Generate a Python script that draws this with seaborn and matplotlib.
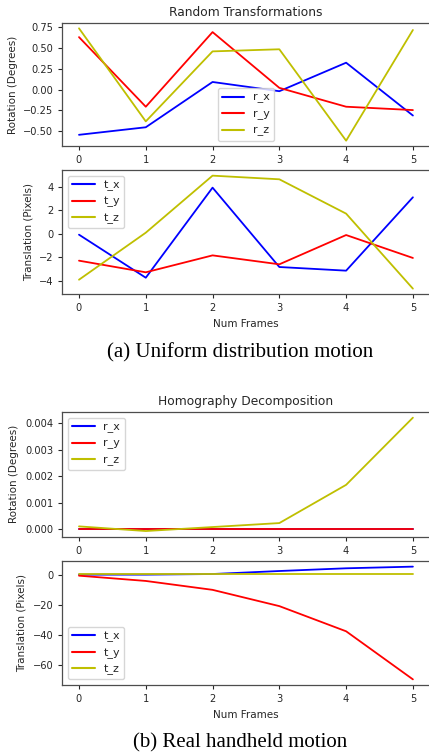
import numpy as np
import pandas as pd
import matplotlib
matplotlib.use("Agg")
import matplotlib.pyplot as plt
from matplotlib.ticker import MultipleLocator
import seaborn as sns

frames = [0, 1, 2, 3, 4, 5]

# (a) Uniform distribution motion
rand_r_x = [-0.54, -0.45, 0.09, -0.02, 0.32, -0.31]
rand_r_y = [0.625, -0.205, 0.685, 0.02, -0.205, -0.245]
rand_r_z = [0.73, -0.38, 0.455, 0.48, -0.61, 0.71]
rand_t_x = [-0.06, -3.72, 3.94, -2.81, -3.12, 3.12]
rand_t_y = [-2.27, -3.26, -1.82, -2.58, -0.09, -2.04]
rand_t_z = [-3.89, 0.11, 4.96, 4.65, 1.73, -4.65]

# (b) Real handheld motion
homo_r_x = [0.0, 0.0, 0.0, 0.0, 0.0, 0.0]
homo_r_y = [0.0, 0.0, 0.0, 0.0, 0.0, 0.0]
homo_r_z = [0.000115, -0.00006, 0.00009, 0.00024, 0.00168, 0.00421]
homo_t_x = [0.0, 0.0, 0.4, 2.4, 4.2, 5.3]
homo_t_y = [-0.7, -4.2, -10.1, -20.9, -37.6, -69.5]
homo_t_z = [0.3, 0.3, 0.3, 0.3, 0.3, 0.3]

titles = ["Random Transformations", "Homography Decomposition"]
captions = ["(a) Uniform distribution motion", "(b) Real handheld motion"]
rot_names = ["r_x", "r_y", "r_z"]
trans_names = ["t_x", "t_y", "t_z"]
colors = ["#0000ff", "#ff0000", "#bfbf00"]

sns.set_style("ticks")
plt.rcParams["font.family"] = ["DejaVu Sans"]

W, H = 429, 754
fig = plt.figure(figsize=(W / 100, H / 100), dpi=100)


def ax_at(top_px, bottom_px, left_px=62.3, right_px=429.6):
    return fig.add_axes([left_px / W, 1 - bottom_px / H,
                         (right_px - left_px) / W, (bottom_px - top_px) / H])


def long_df(names, series):
    rows = []
    for n, s in zip(names, series):
        for f, v in zip(frames, s):
            rows.append({"frame": f, "value": v, "series": n})
    return pd.DataFrame(rows)


panels = [
    (22.7, 146.3, rot_names, [rand_r_x, rand_r_y, rand_r_z], "Rotation (Degrees)", "lower center", titles[0], False, 0.25),
    (170.0, 294.3, trans_names, [rand_t_x, rand_t_y, rand_t_z], "Translation (Pixels)", "upper left", None, True, 2),
    (412.0, 536.7, rot_names, [homo_r_x, homo_r_y, homo_r_z], "Rotation (Degrees)", "upper left", titles[1], False, 0.001),
    (561.0, 685.0, trans_names, [homo_t_x, homo_t_y, homo_t_z], "Translation (Pixels)", "lower left", None, True, 20),
]

for top, bot, names, series, ylabel, loc, title, xl, step in panels:
    ax = ax_at(top, bot)
    df = long_df(names, series)
    sns.lineplot(data=df, x="frame", y="value", hue="series",
                 palette=dict(zip(names, colors)), hue_order=names,
                 linewidth=1.3, ax=ax, legend=True)
    ax.set_xticks(frames)
    ax.yaxis.set_major_locator(MultipleLocator(step))
    ax.set_ylabel(ylabel, fontsize=7.5, color=".15", labelpad=4)
    ax.set_xlabel("Num Frames" if xl else "", fontsize=7.5, color=".15")
    ax.tick_params(labelsize=7.1, colors=".15", length=3, width=0.8)
    for sp in ax.spines.values():
        sp.set_visible(True)
        sp.set_linewidth(0.9)
        sp.set_color(".3")
    if title:
        ax.set_title(title, fontsize=8.8, color=".15", pad=5)
    leg = ax.legend(loc=loc, fontsize=8, frameon=True)
    for line in leg.get_lines():
        line.set_linewidth(1.5)

fig.text(240 / W, 1 - 353 / H, captions[0], ha="center", va="center",
         fontsize=15, family="Liberation Serif", color="black")
fig.text(240 / W, 1 - 743 / H, captions[1], ha="center", va="center",
         fontsize=15, family="Liberation Serif", color="black")

fig.savefig("out.png", dpi=100, facecolor="white")
